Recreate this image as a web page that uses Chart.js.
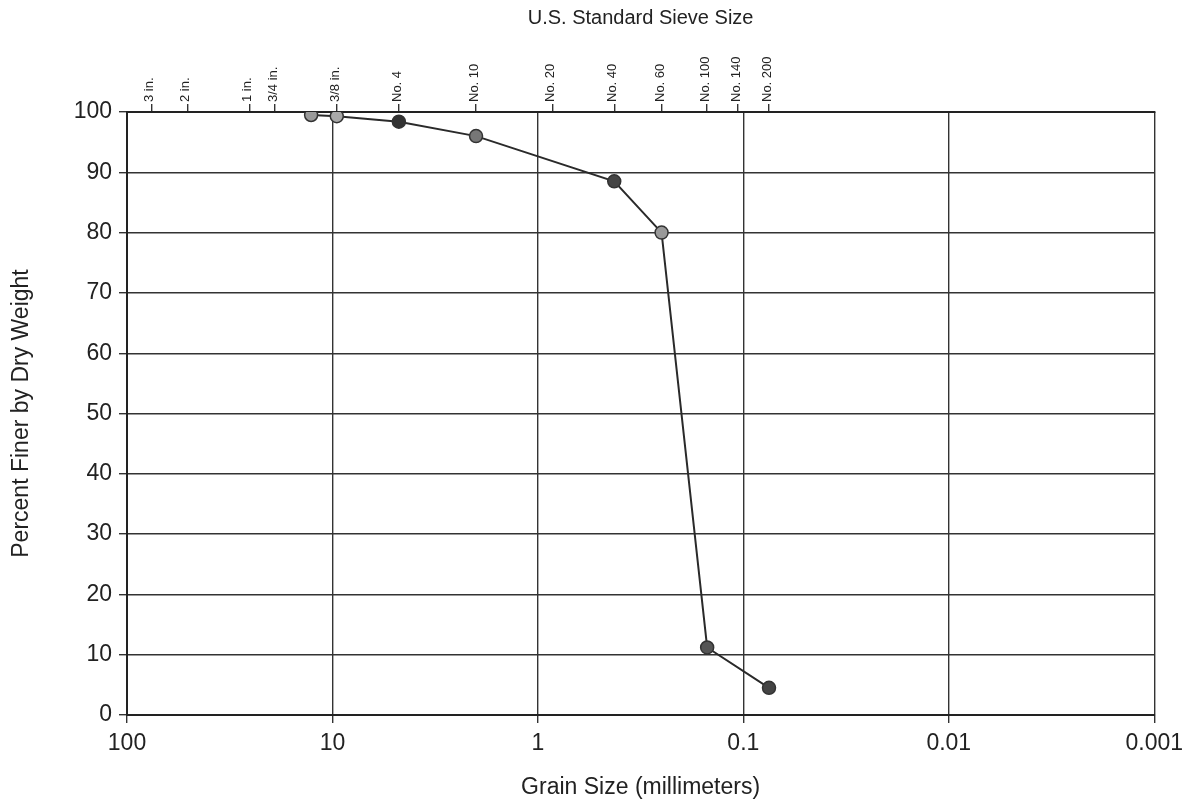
<!DOCTYPE html>
<html>
<head>
<meta charset="utf-8">
<script src="https://cdn.jsdelivr.net/npm/chart.js"></script>
<style>
  html, body { margin: 0; padding: 0; background: #fff; }
  #wrap { width: 1190px; height: 801px; }
</style>
</head>
<body>
<div id="wrap"><canvas id="chart" width="1190" height="801"></canvas></div>
<script>
// grain size (mm) vs percent finer
const grainSizes = [12.7, 9.525, 4.75, 2.0, 0.425, 0.25, 0.15, 0.075];
const percentFiner = [99.5, 99.3, 98.4, 96.0, 88.5, 80.0, 11.2, 4.5];

const mmTicks = [100, 10, 1, 0.1, 0.01, 0.001];
const percentTicks = [0, 10, 20, 30, 40, 50, 60, 70, 80, 90, 100];

const sieveSizes = [76.2, 50.8, 25.4, 19.05, 9.525, 4.75, 2.0, 0.85, 0.425, 0.25, 0.15, 0.106, 0.075];
const sieveLabels = ['3 in.', '2 in.', '1 in.', '3/4 in.', '3/8 in.', 'No. 4', 'No. 10', 'No. 20', 'No. 40', 'No. 60', 'No. 100', 'No. 140', 'No. 200'];

const pointFills = ['#9a9a9a', '#a8a8a8', '#333', '#777', '#444', '#999', '#555', '#444'];

const ink = '#222';
const fam = 'Liberation Sans, Arial, sans-serif';
const tickFont = { family: fam, size: 23 };
const titleFont = { family: fam, size: 23 };

const ctx = document.getElementById('chart').getContext('2d');

const chart = new Chart(ctx, {
    type: 'scatter',
    data: {
        datasets: [{
            data: grainSizes.map((d, i) => ({ x: d, y: percentFiner[i] })),
            showLine: true,
            borderColor: '#2a2a2a',
            borderWidth: 2,
            pointRadius: 6.5,
            pointBorderWidth: 1.5,
            pointBorderColor: '#333',
            pointBackgroundColor: pointFills,
            xAxisID: 'x',
            yAxisID: 'y'
        }]
    },
    options: {
        responsive: false,
        animation: false,
        layout: { padding: { left: 0, right: 35, top: 0, bottom: 0 } },
        plugins: {
            legend: { display: false },
            tooltip: { enabled: false }
        },
        scales: {
            x: {
                type: 'logarithmic',
                position: 'bottom',
                reverse: true,
                min: 0.001,
                max: 100,
                afterBuildTicks: scale => { scale.ticks = mmTicks.map(v => ({ value: v })); },
                afterFit: scale => { scale.height = 86; },
                ticks: {
                    autoSkip: false,
                    maxRotation: 0,
                    padding: 7,
                    color: ink,
                    font: tickFont,
                    callback: v => String(v)
                },
                grid: { color: '#333', lineWidth: 1.4, tickLength: 8 },
                border: { color: '#222', width: 2 },
                title: {
                    display: true,
                    text: 'Grain Size (millimeters)',
                    color: ink,
                    font: titleFont,
                    padding: { top: 0, bottom: 0 }
                }
            },
            top: {
                type: 'logarithmic',
                position: 'top',
                reverse: true,
                min: 0.001,
                max: 100,
                afterBuildTicks: scale => { scale.ticks = sieveSizes.map(v => ({ value: v })); },
                afterFit: scale => { scale.height = 112; },
                ticks: {
                    autoSkip: false,
                    minRotation: 90,
                    maxRotation: 90,
                    padding: 2,
                    labelOffset: 14,
                    color: ink,
                    font: { family: fam, size: 13 },
                    callback: (v, i) => sieveLabels[i]
                },
                grid: { drawOnChartArea: false, color: '#333', lineWidth: 1.4, tickLength: 8 },
                border: { color: '#222', width: 2 },
                title: {
                    display: true,
                    text: 'U.S. Standard Sieve Size',
                    color: ink,
                    font: { family: fam, size: 20 },
                    padding: { top: 6, bottom: 0 }
                }
            },
            y: {
                min: 0,
                max: 100,
                afterBuildTicks: scale => { scale.ticks = percentTicks.map(v => ({ value: v })); },
                afterFit: scale => { scale.width = 127; },
                ticks: {
                    padding: 7,
                    color: ink,
                    font: tickFont
                },
                grid: { color: '#333', lineWidth: 1.4, tickLength: 8 },
                border: { color: '#222', width: 2 },
                title: {
                    display: true,
                    text: 'Percent Finer by Dry Weight',
                    color: ink,
                    font: titleFont,
                    padding: { top: 8, bottom: 0 }
                }
            }
        }
    }
});
</script>
</body>
</html>
